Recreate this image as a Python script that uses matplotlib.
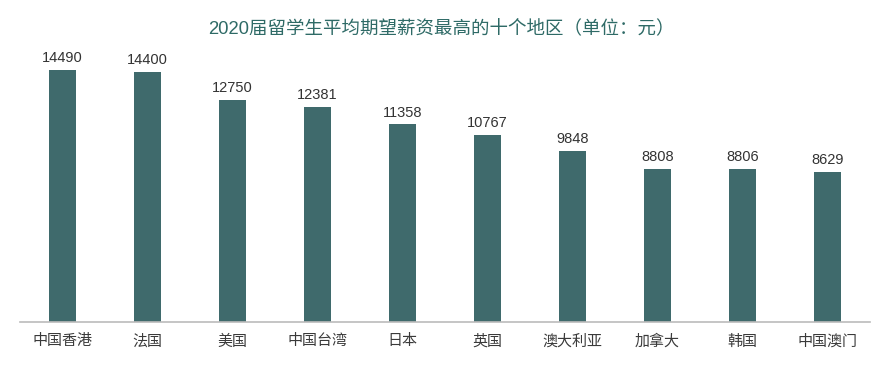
import matplotlib
matplotlib.use("Agg")
import matplotlib.pyplot as plt

plt.rcParams["font.family"] = ["Noto Sans CJK SC", "DejaVu Sans"]
NUM_FONT = ["Liberation Sans", "Noto Sans CJK SC"]

regions = ["中国香港", "法国", "美国", "中国台湾", "日本", "英国", "澳大利亚", "加拿大", "韩国", "中国澳门"]
salaries = [14490, 14400, 12750, 12381, 11358, 10767, 9848, 8808, 8806, 8629]

W, H = 885, 366
fig = plt.figure(figsize=(W / 100, H / 100), dpi=100)
ax = fig.add_axes([20 / W, 44 / H, 850 / W, 278 / H])

x = list(range(len(regions)))
ax.bar(x, salaries, width=0.318, color="#3f6a6c")
for xi, v in zip(x, salaries):
    ax.annotate(str(v), (xi, v), xytext=(0, 3.5), textcoords="offset points",
                ha="center", va="bottom", fontsize=10.5, color="#333333",
                family=NUM_FONT)

ax.set_xlim(-0.5, 9.5)
ax.set_ylim(0, 278 * 57.5)
ax.set_yticks([])
ax.set_xticks(x)
ax.set_xticklabels(regions, fontsize=10.8, color="#3a3a3a")
ax.tick_params(axis="x", length=0, pad=9)
for s in ["top", "right", "left"]:
    ax.spines[s].set_visible(False)
ax.spines["bottom"].set_color("#bbbbbb")
ax.spines["bottom"].set_linewidth(1.2)

fig.text(441 / W, 1 - 29 / H, "2020届留学生平均期望薪资最高的十个地区（单位：元）",
         ha="center", va="center", fontsize=13.3, color="#2e6a66",
         family=NUM_FONT)

fig.savefig("out.png", dpi=100)
